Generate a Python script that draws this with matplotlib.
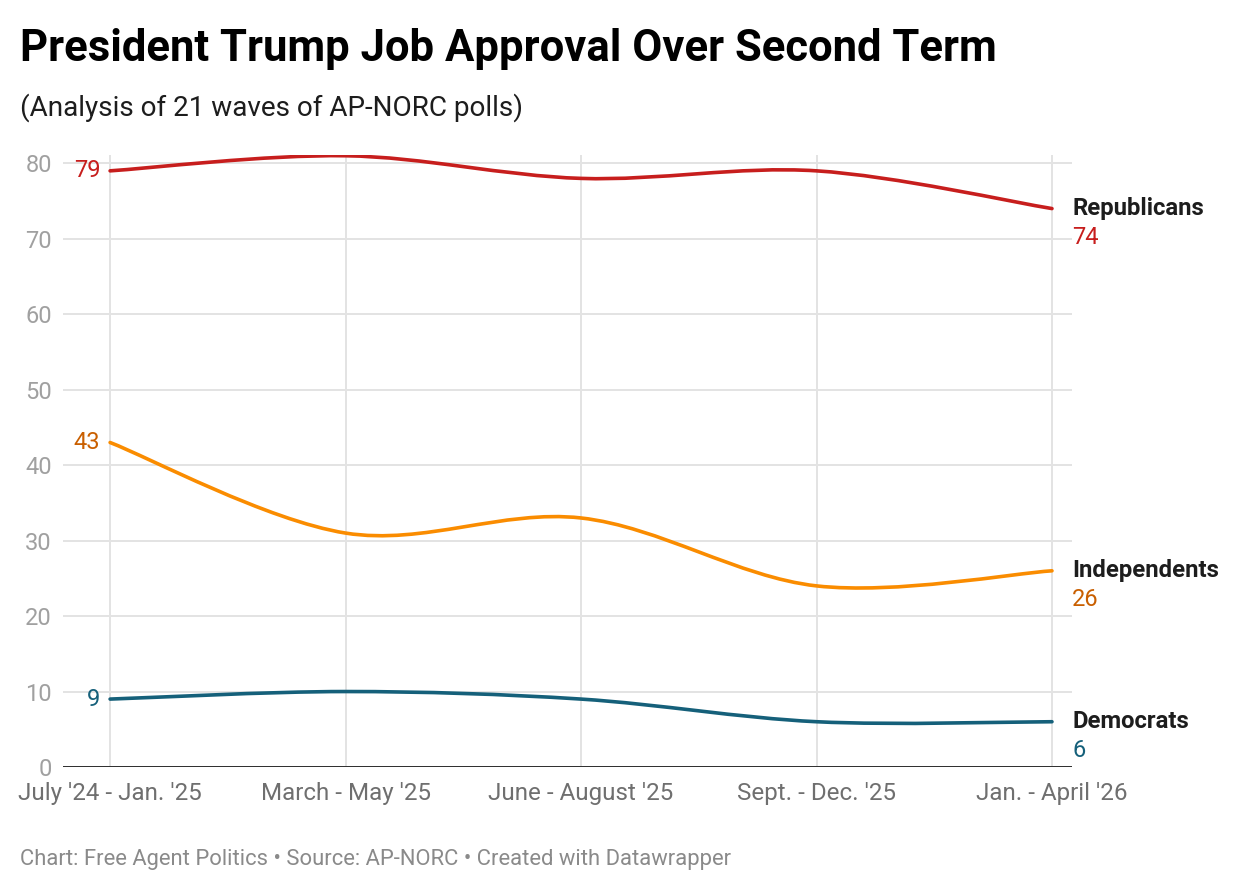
import matplotlib
matplotlib.use("Agg")
import matplotlib.pyplot as plt
from matplotlib.path import Path
from matplotlib.patches import PathPatch
import numpy as np

periods = ["July '24 - Jan. '25", "March - May '25", "June - August '25",
           "Sept. - Dec. '25", "Jan. - April '26"]
republicans = [79, 81, 78, 79, 74]
independents = [43, 31, 33, 24, 26]
democrats = [9, 10, 9, 6, 6]

series_names = ["Republicans", "Independents", "Democrats"]
series_values = [republicans, independents, democrats]
line_colors = ["#c71e1d", "#fa8c00", "#15607a"]
label_colors = ["#c71e1d", "#c95f00", "#15607a"]
y_ticks = [0, 10, 20, 30, 40, 50, 60, 70, 80]

plt.rcParams['font.family'] = ['Roboto', 'DejaVu Sans']

W, H = 1240, 894
fig = plt.figure(figsize=(W / 100, H / 100), dpi=100)
fig.patch.set_facecolor("white")

left_px, right_px, top_px, bot_px = 63, 1072, 155, 767
ax = fig.add_axes([left_px / W, 1 - bot_px / H, (right_px - left_px) / W, (bot_px - top_px) / H])

x = np.arange(len(periods))
ax.set_xlim(-0.2, 4.085)
ax.set_ylim(0, 81.1)


def catmull_path(xs, ys):
    xs = np.asarray(xs, float)
    ys = np.asarray(ys, float)
    n = len(xs)
    verts = [(xs[0], ys[0])]
    codes = [Path.MOVETO]
    for i in range(n - 1):
        i0 = max(i - 1, 0)
        i3 = min(i + 2, n - 1)
        c1 = (xs[i] + (xs[i + 1] - xs[i0]) / 6, ys[i] + (ys[i + 1] - ys[i0]) / 6)
        c2 = (xs[i + 1] - (xs[i3] - xs[i]) / 6, ys[i + 1] - (ys[i3] - ys[i]) / 6)
        verts += [c1, c2, (xs[i + 1], ys[i + 1])]
        codes += [Path.CURVE4] * 3
    return Path(verts, codes)


for name, vals, lc, tc in zip(series_names, series_values, line_colors, label_colors):
    patch = PathPatch(catmull_path(x, vals), facecolor="none", edgecolor=lc,
                      lw=2.6, capstyle="round", joinstyle="round", zorder=3)
    ax.add_patch(patch)
    # start value label
    ax.annotate(f"{vals[0]}", (x[0], vals[0]), xytext=(-7, 0), textcoords="offset points",
                ha="right", va="center", fontsize=17, color=tc)
    # end labels
    ax.annotate(name, (x[-1], vals[-1]), xytext=(14.5, 0), textcoords="offset points",
                ha="left", va="center", fontsize=17.2, fontweight="bold", color="#1d1d1d")
    ax.annotate(f"{vals[-1]}", (x[-1], vals[-1]), xytext=(14.5, -21), textcoords="offset points",
                ha="left", va="center", fontsize=17, color=tc)

for s in ax.spines.values():
    s.set_visible(False)
ax.axhline(0, color="#1d1d1d", lw=2.0, zorder=4)

ax.set_yticks(y_ticks)
ax.set_yticklabels([str(v) for v in y_ticks])
ax.set_xticks(x)
ax.set_xticklabels(periods)
ax.tick_params(axis="y", length=0, pad=8, labelsize=17, labelcolor="#a0a0a0")
ax.tick_params(axis="x", length=0, pad=10.5, labelsize=17.4, labelcolor="#6f6f6f")
ax.grid(True, color="#e3e3e3", lw=1.4, zorder=0)
ax.set_axisbelow(True)

fig.text(20 / W, 1 - 61 / H, "President Trump Job Approval Over Second Term",
         fontsize=31.4, fontweight="bold", color="#000000", ha="left", va="baseline")
fig.text(20 / W, 1 - 116 / H, "(Analysis of 21 waves of AP-NORC polls)",
         fontsize=20.1, color="#1d1d1d", ha="left", va="baseline")
fig.text(20 / W, 1 - 865 / H, "Chart: Free Agent Politics • Source: AP-NORC • Created with Datawrapper",
         fontsize=15.8, color="#8a8a8a", ha="left", va="baseline")

fig.savefig("out.png", dpi=100, facecolor="white")
